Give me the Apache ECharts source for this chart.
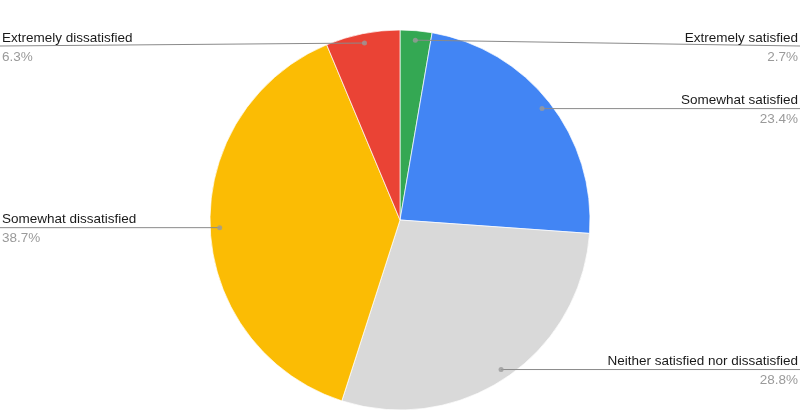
<!DOCTYPE html>
<html>
<head>
<meta charset="utf-8">
<script src="https://cdn.jsdelivr.net/npm/echarts@6/dist/echarts.min.js"></script>
<style>
  html, body { margin: 0; padding: 0; background: #fff; }
  #chart { width: 800px; height: 419px; }
</style>
</head>
<body>
<div id="chart"></div>
<script>
// answers, clockwise from the top
var categories = ['Extremely satisfied', 'Somewhat satisfied', 'Neither satisfied nor dissatisfied', 'Somewhat dissatisfied', 'Extremely dissatisfied'];
var percents = [2.7, 23.4, 28.8, 38.7, 6.3];
var colors = ['#34A853', '#4285F4', '#D9D9D9', '#FBBC04', '#EA4335'];

var cx = 400, cy = 220, R = 190;
var total = percents.reduce(function (a, b) { return a + b; }, 0);
var fontFamily = 'Liberation Sans, Arial, sans-serif';

// middle of each slice, in percent of the full turn
var mids = [];
var acc = 0;
percents.forEach(function (p) {
    mids.push(acc + p / 2);
    acc += p;
});

function dotPos(i) {
    var a = mids[i] / total * Math.PI * 2;
    return [cx + R * 0.95 * Math.sin(a), cy - R * 0.95 * Math.cos(a)];
}

var pieData = categories.map(function (c, i) { return { name: c, value: percents[i] }; });

var myChart = echarts.init(document.getElementById('chart'));
var option = {
    animation: false,
    color: colors,
    polar: { center: [cx, cy], radius: R },
    angleAxis: { type: 'value', min: 0, max: total, startAngle: 90, clockwise: true, show: false },
    radiusAxis: { type: 'value', min: 0, max: 1, show: false },
    series: [{
        // the slices
        type: 'pie',
        center: [cx, cy],
        radius: R,
        startAngle: 90,
        clockwise: true,
        z: 2,
        itemStyle: { borderColor: '#fff', borderWidth: 0.7 },
        label: { show: false },
        labelLine: { show: false },
        data: pieData,
        emphasis: { disabled: true }
    }, {
        // same pie, see-through, only for labels and lines drawn on top
        type: 'pie',
        center: [cx, cy],
        radius: R,
        startAngle: 90,
        clockwise: true,
        z: 4,
        silent: true,
        avoidLabelOverlap: false,
        itemStyle: { color: 'rgba(0,0,0,0)' },
        data: pieData,
        label: {
            show: true,
            position: 'outside',
            fontFamily: fontFamily,
            formatter: function (p) {
                return '{n|' + p.name + '}\n{p|' + p.value.toFixed(1) + '%}';
            },
            rich: {
                n: { fontSize: 13.5, color: '#1a1a1a', lineHeight: 22, fontFamily: fontFamily },
                p: { fontSize: 13.5, color: '#9a9a9a', lineHeight: 16, fontFamily: fontFamily }
            }
        },
        labelLine: { show: true, length: 10, length2: 10, lineStyle: { color: '#8a8a8a', width: 1 } },
        labelLayout: function (params) {
            var i = params.dataIndex;
            var d = dotPos(i);
            var right = d[0] >= cx;
            var y = Math.max(d[1], 46);
            var edge = right ? 800 : 0;
            return {
                x: right ? 798 : 2,
                y: y,
                align: right ? 'right' : 'left',
                verticalAlign: 'middle',
                labelLinePoints: [[d[0], d[1]], [edge, y]]
            };
        },
        emphasis: { disabled: true }
    }, {
        type: 'scatter',
        coordinateSystem: 'polar',
        symbol: 'circle',
        symbolSize: 5,
        itemStyle: { color: '#9a9a9a' },
        silent: true,
        z: 5,
        data: mids.map(function (m) { return [0.95, m]; })
    }]
};
myChart.setOption(option);
</script>
</body>
</html>
